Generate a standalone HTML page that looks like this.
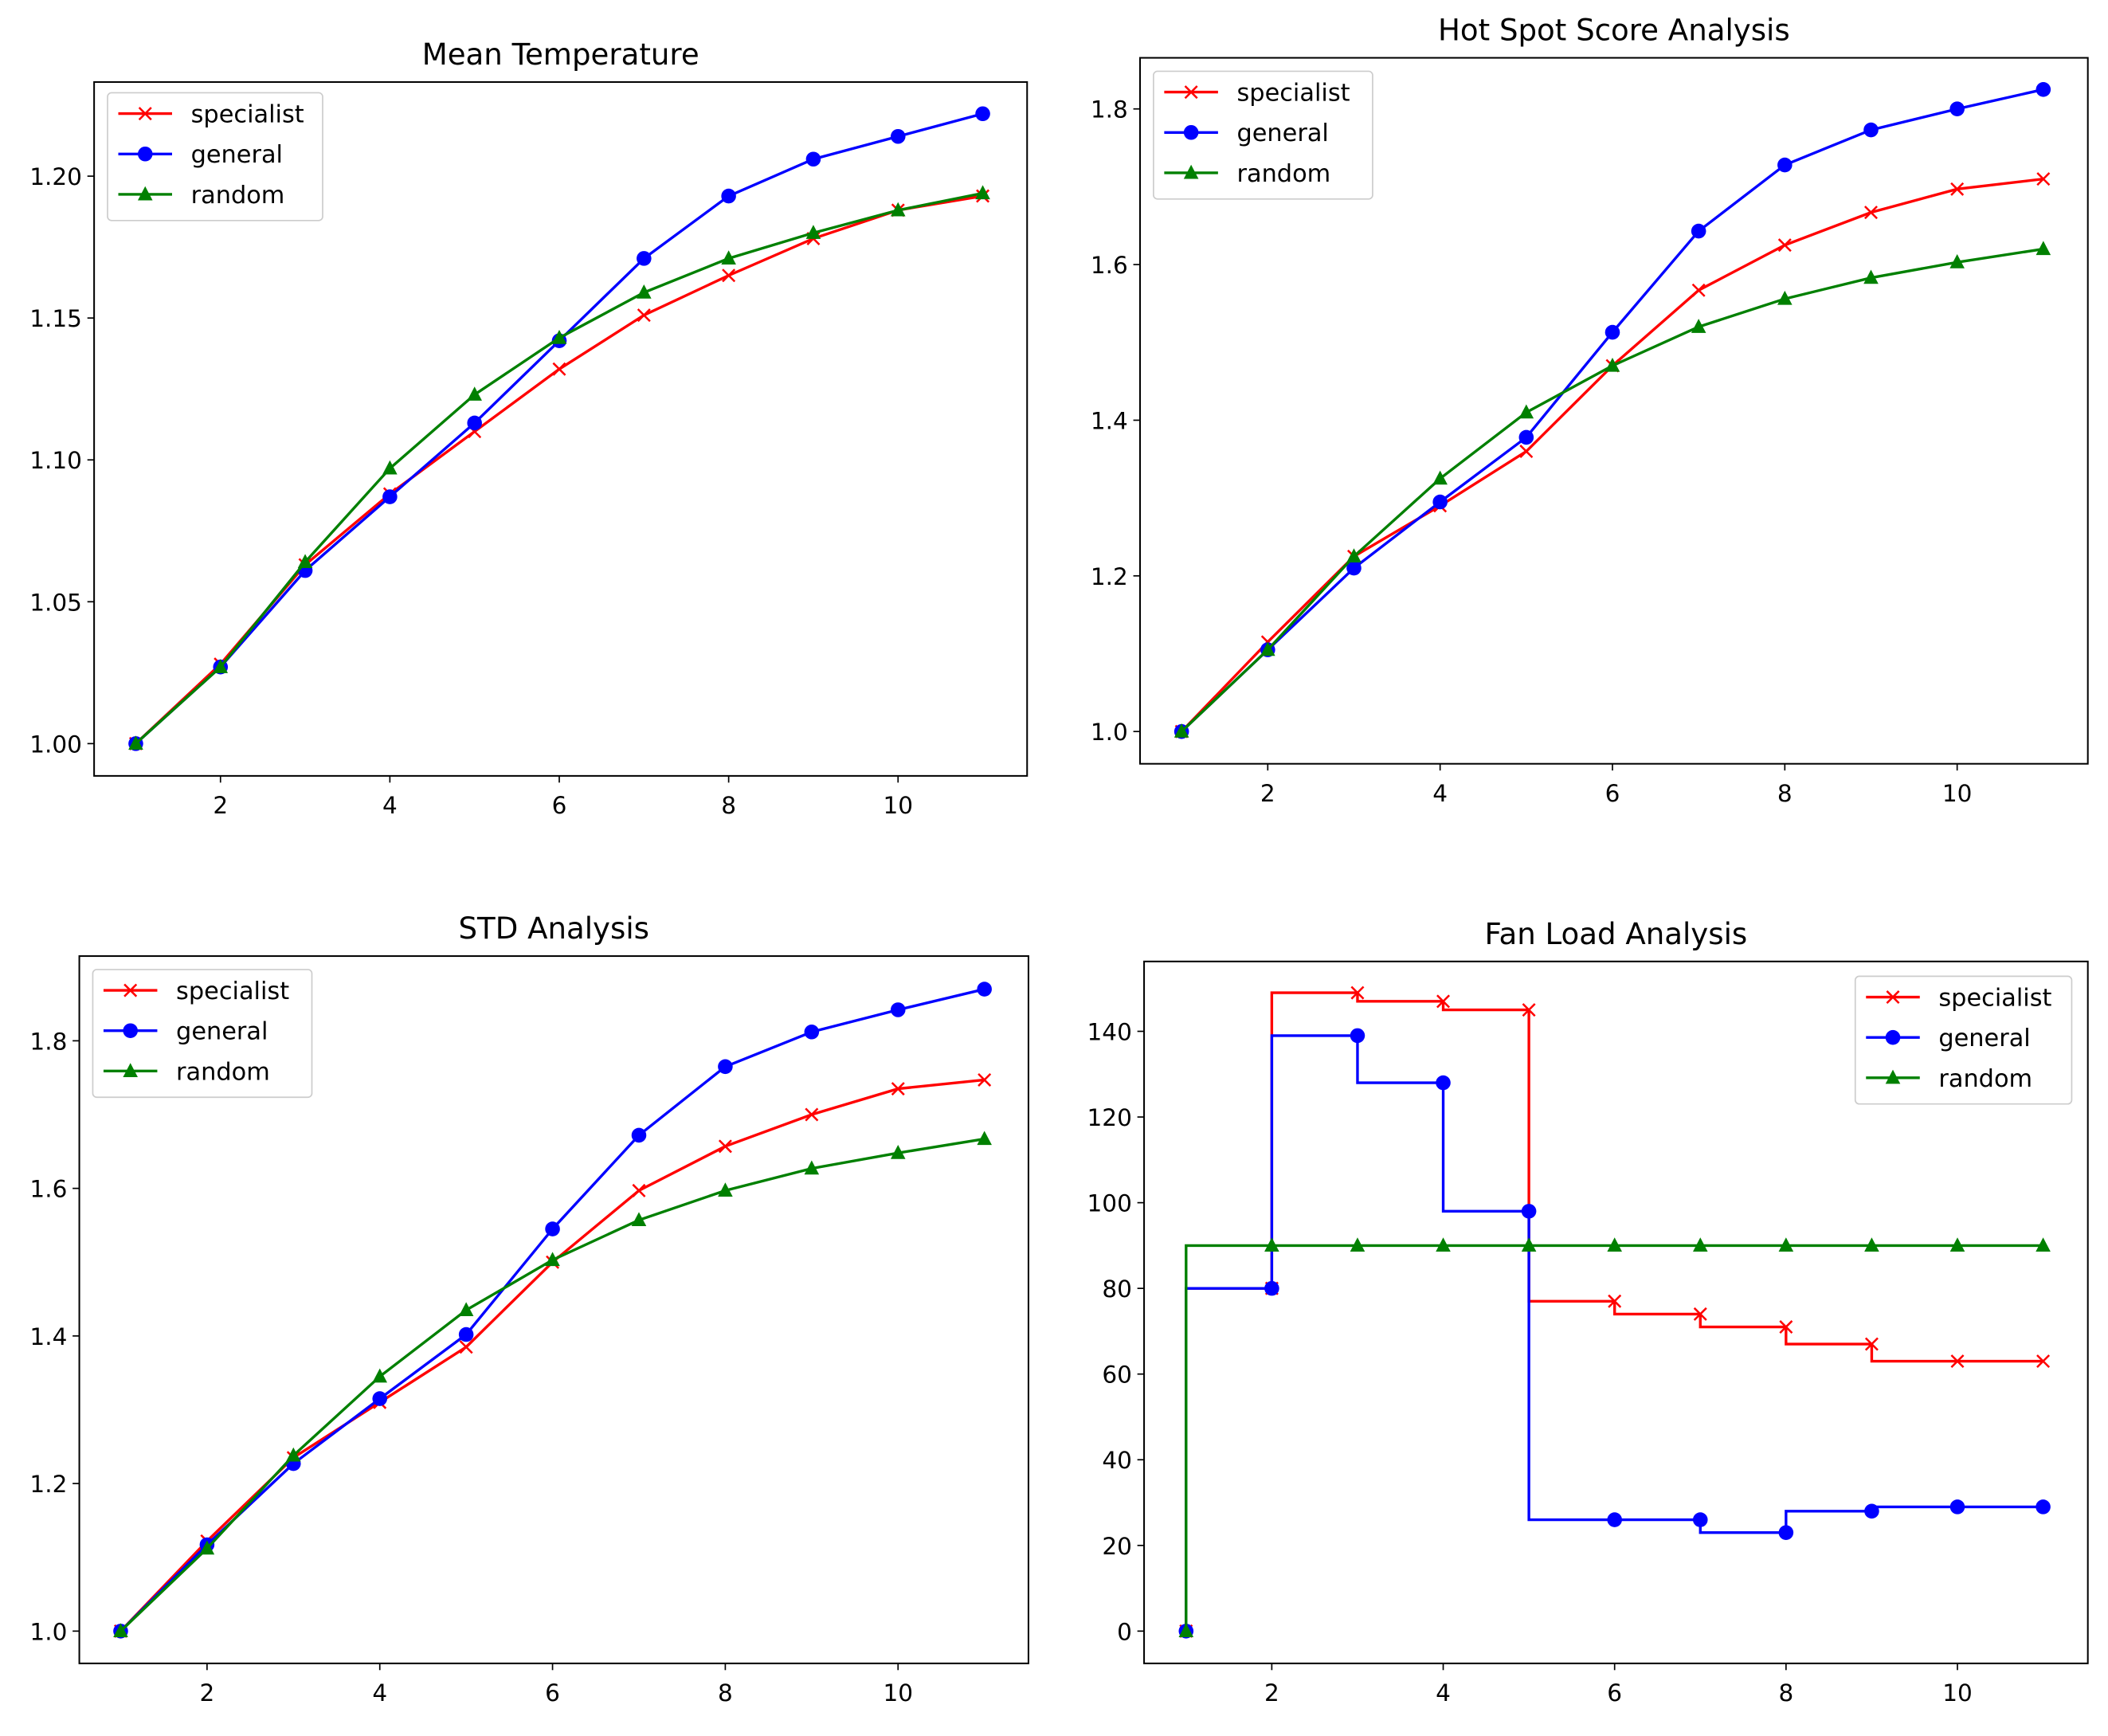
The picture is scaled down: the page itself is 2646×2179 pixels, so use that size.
<!DOCTYPE html>
<html><head><meta charset="utf-8"><style>
html,body{margin:0;padding:0;background:#fff;}
svg{display:block;font-family:"DejaVu Sans","Liberation Sans",sans-serif;}
</style></head><body>
<svg id="fig" width="2646" height="2179" viewBox="0 0 1568 1291" preserveAspectRatio="none" xmlns="http://www.w3.org/2000/svg"></svg>
<script>
const xs = [1,2,3,4,5,6,7,8,9,10,11];
const xTicks = [2,4,6,8,10];
const seriesNames = ["specialist","general","random"];
const meanSpecialist = [1.0,1.028,1.063,1.088,1.110,1.132,1.151,1.165,1.178,1.188,1.193];
const meanGeneral = [1.0,1.027,1.061,1.087,1.113,1.142,1.171,1.193,1.206,1.214,1.222];
const meanRandom = [1.0,1.027,1.064,1.097,1.123,1.143,1.159,1.171,1.180,1.188,1.194];
const meanYTicks = [1.00,1.05,1.10,1.15,1.20];
const hotSpecialist = [1.0,1.115,1.225,1.29,1.36,1.47,1.567,1.625,1.667,1.697,1.71];
const hotGeneral = [1.0,1.105,1.21,1.295,1.378,1.513,1.643,1.728,1.773,1.80,1.825];
const hotRandom = [1.0,1.105,1.225,1.325,1.41,1.47,1.52,1.556,1.583,1.603,1.62];
const hotYTicks = [1.0,1.2,1.4,1.6,1.8];
const stdSpecialist = [1.0,1.122,1.235,1.31,1.385,1.50,1.597,1.657,1.70,1.735,1.747];
const stdGeneral = [1.0,1.117,1.227,1.315,1.402,1.545,1.672,1.765,1.812,1.842,1.87];
const stdRandom = [1.0,1.112,1.238,1.345,1.435,1.503,1.557,1.597,1.627,1.648,1.667];
const stdYTicks = [1.0,1.2,1.4,1.6,1.8];
const fanSpecialist = [0,80,149,147,145,77,74,71,67,63,63];
const fanGeneral = [0,80,139,128,98,26,26,23,28,29,29];
const fanRandom = [0,90,90,90,90,90,90,90,90,90,90];
const fanYTicks = [0,20,40,60,80,100,120,140];

const NS="http://www.w3.org/2000/svg";
const svg=document.getElementById('fig');
function mk(tag,attrs,parent){const e=document.createElementNS(NS,tag);for(const k in attrs)e.setAttribute(k,attrs[k]);(parent||svg).appendChild(e);return e;}
const colors=["#ff0000","#0000ff","#008000"];

function marker(g,kind,x,y,c){
  let m;
  if(kind==0){m=mk('path',{d:`M${x-4.5},${y-4.5}L${x+4.5},${y+4.5}M${x-4.5},${y+4.5}L${x+4.5},${y-4.5}`,stroke:c,'stroke-width':1.5,fill:'none'},g);}
  else if(kind==1){m=mk('circle',{cx:x,cy:y,r:5.5,fill:c},g);}
  else {m=mk('path',{d:`M${x},${y-6}L${x+5.5},${y+4.5}L${x-5.5},${y+4.5}Z`,fill:c},g);}
  return m;
}

function chart(cfg){
  const g=mk('g',{});
  
  
  const X=v=>cfg.x0+(v-cfg.xv0)*cfg.xs;
  const Y=v=>cfg.y0-(v-cfg.yv0)*cfg.ys;
  const t=mk('text',{x:(cfg.L+cfg.R)/2,y:cfg.T-13,'text-anchor':'middle','font-size':22,fill:'#000'},g);
  t.textContent=cfg.title;
  
  
  for(const v of xTicks){
    const x=X(v);
    mk('line',{x1:x,x2:x,y1:cfg.B,y2:cfg.B+5,stroke:'#000','stroke-width':1},g);
    const tx=mk('text',{x:x,y:cfg.B+28,'text-anchor':'middle','font-size':17.5,fill:'#000'},g);
    tx.textContent=v;
    
    
  }
  for(const v of cfg.yTicks){
    const y=Y(v);
    mk('line',{x1:cfg.L-5,x2:cfg.L,y1:y,y2:y,stroke:'#000','stroke-width':1},g);
    const ty=mk('text',{x:cfg.L-9,y:y+6.5,'text-anchor':'end','font-size':17.5,fill:'#000'},g);
    ty.textContent=cfg.yFmt(v);
    
    
  }
  cfg.series.forEach((ys,i)=>{
    const s=mk('g',{},g);
    
    
    let d='';
    ys.forEach((v,j)=>{
      if(j==0){d+=`M${X(xs[0])},${Y(v)}`;}
      else if(cfg.step){d+=`L${X(xs[j-1])},${Y(v)}L${X(xs[j])},${Y(v)}`;}
      else d+=`L${X(xs[j])},${Y(v)}`;
    });
    const p=mk('path',{d:d,stroke:colors[i],'stroke-width':2,fill:'none'},s);
    
    
    ys.forEach((v,j)=>{
      const m=marker(s,i,X(xs[j]),Y(v),colors[i]);
      
      
    });
  });
  mk('rect',{x:cfg.L,y:cfg.T,width:cfg.R-cfg.L,height:cfg.B-cfg.T,fill:'none',stroke:'#000','stroke-width':1.2},g);
  const lg=mk('g',{},g);
  
  
  const lx=cfg.lx, ly=cfg.ly;
  mk('rect',{x:lx,y:ly,width:cfg.lw,height:95,rx:3,fill:'#fff','fill-opacity':0.8,stroke:'#ccc','stroke-width':1},lg);
  seriesNames.forEach((n,i)=>{
    const yy=ly+15.5+i*30;
    mk('line',{x1:lx+8,x2:lx+48,y1:yy,y2:yy,stroke:colors[i],'stroke-width':2},lg);
    marker(lg,i,lx+28,yy,colors[i]);
    const tt=mk('text',{x:lx+62,y:yy+6.5,'font-size':18,fill:'#000'},lg);
    tt.textContent=n;
    
    
  });
}

chart({name:'mean-temperature-chart',title:'Mean Temperature',L:70,R:764,T:61,B:577,x0:164,xv0:2,xs:63,y0:553,yv0:1.0,ys:2110,
  yTicks:meanYTicks,yFmt:v=>v.toFixed(2),series:[meanSpecialist,meanGeneral,meanRandom],lx:80,ly:69,lw:160});
chart({name:'hot-spot-chart',title:'Hot Spot Score Analysis',L:848,R:1553,T:43,B:568,x0:943,xv0:2,xs:64.1,y0:544,yv0:1.0,ys:578.75,
  yTicks:hotYTicks,yFmt:v=>v.toFixed(1),series:[hotSpecialist,hotGeneral,hotRandom],lx:858,ly:53,lw:163});
chart({name:'std-chart',title:'STD Analysis',L:59,R:765,T:711,B:1237,x0:154,xv0:2,xs:64.25,y0:1213,yv0:1.0,ys:548.75,
  yTicks:stdYTicks,yFmt:v=>v.toFixed(1),series:[stdSpecialist,stdGeneral,stdRandom],lx:69,ly:721,lw:163});
chart({name:'fan-load-chart',title:'Fan Load Analysis',L:851,R:1553,T:715,B:1237,x0:946,xv0:2,xs:63.75,y0:1213,yv0:0,ys:3.186,step:true,
  yTicks:fanYTicks,yFmt:v=>String(v),series:[fanSpecialist,fanGeneral,fanRandom],lx:1380,ly:726,lw:161});
</script>
</body></html>
